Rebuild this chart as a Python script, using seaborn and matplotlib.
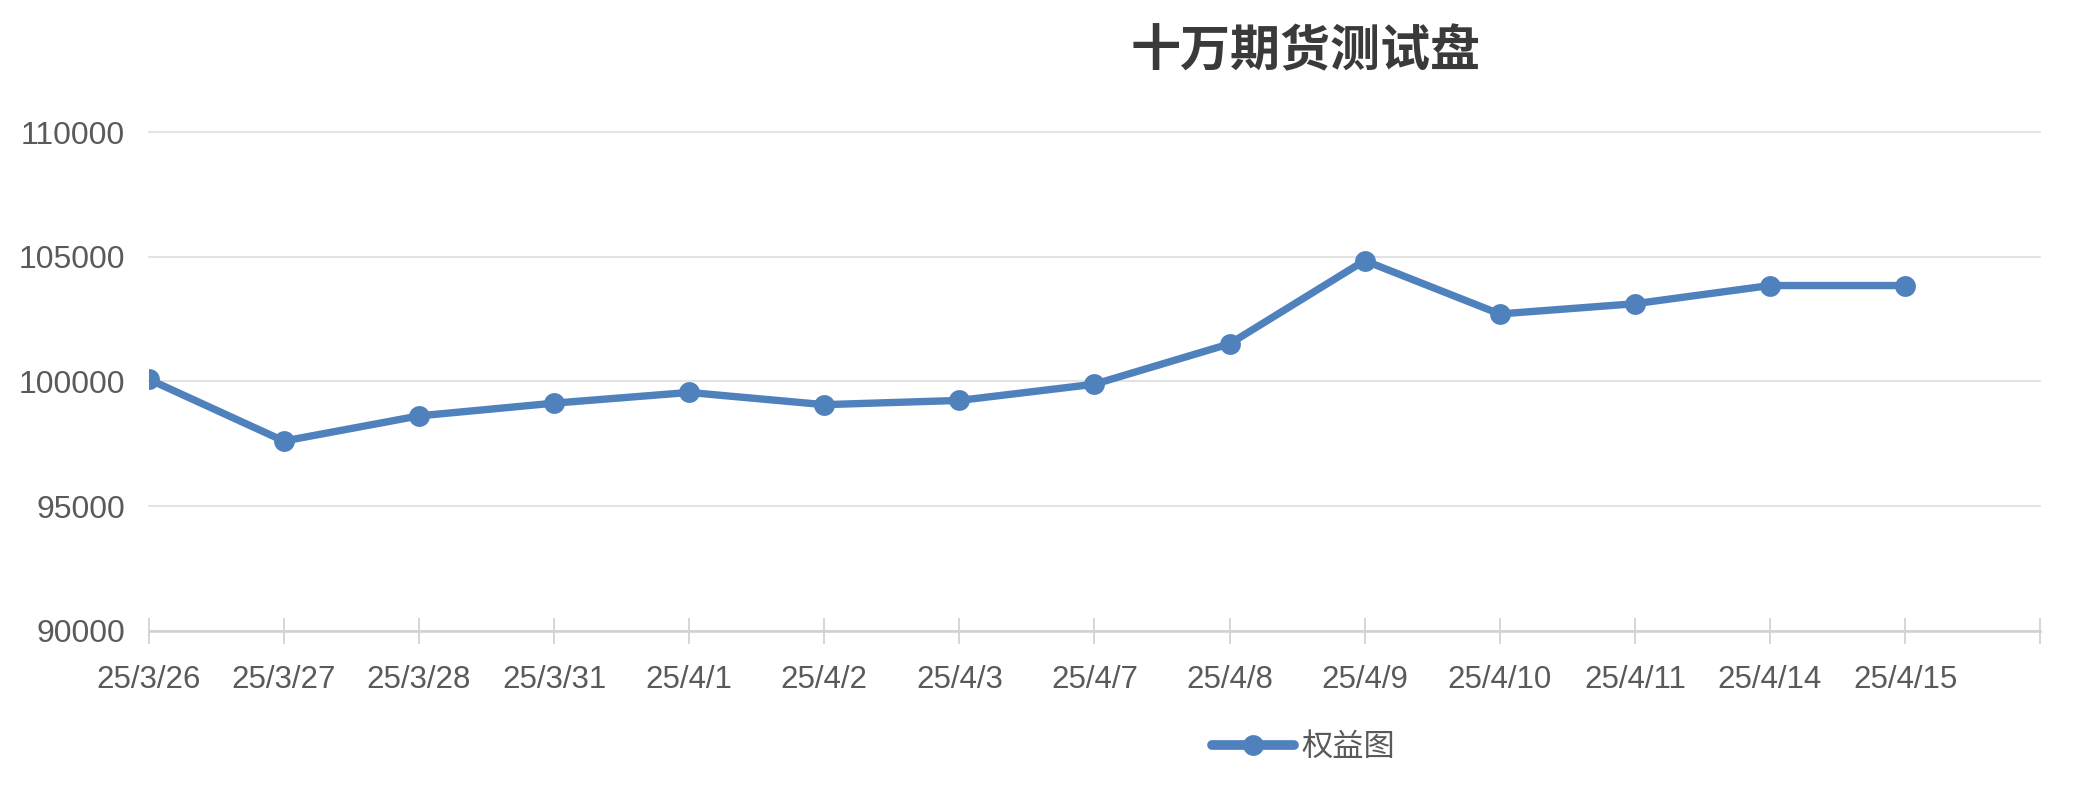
import pandas as pd
import matplotlib
matplotlib.use('Agg')
import matplotlib.pyplot as plt
import seaborn as sns

# 数据
dates = ['25/3/26', '25/3/27', '25/3/28', '25/3/31', '25/4/1', '25/4/2', '25/4/3',
         '25/4/7', '25/4/8', '25/4/9', '25/4/10', '25/4/11', '25/4/14', '25/4/15']
equity = [100090, 97610, 98620, 99130, 99560, 99070, 99240,
          99890, 101510, 104850, 102710, 103120, 103850, 103850]
y_ticks = [90000, 95000, 100000, 105000, 110000]
titulo = '十万期货测试盘'
serie = '权益图'

sns.set_style('white')
plt.rcParams['font.family'] = ['Liberation Sans', 'Noto Sans CJK SC', 'DejaVu Sans']

azul = '#4f81bd'
cinza_texto = '#5a5a5a'

df = pd.DataFrame({'data': dates, 'valor': equity})

fig = plt.figure(figsize=(20.86, 7.86), dpi=100)
ax = fig.add_axes([0.0713, 0.1976, 0.978 - 0.0713, 0.8317 - 0.1976])

sns.lineplot(data=df, x='data', y='valor', ax=ax, color=azul, linewidth=5.3,
             marker='o', markersize=15, markeredgewidth=0, label=serie, sort=False)

ax.set_xlim(0, len(dates))
ax.set_ylim(y_ticks[0], y_ticks[-1])
ax.set_xticks(range(len(dates) + 1))
ax.set_xticklabels(dates + [''])
ax.set_yticks(y_ticks)
ax.set_yticklabels([str(v) for v in y_ticks])
ax.set_xlabel('')
ax.set_ylabel('')

ax.yaxis.grid(True, color='#e3e3e3', linewidth=1.5)
for g in ax.get_ygridlines():
    g.set_clip_on(False)
ax.set_axisbelow(True)

for lado in ['top', 'right', 'left']:
    ax.spines[lado].set_visible(False)
ax.spines['bottom'].set_color('#d0d0d0')
ax.spines['bottom'].set_linewidth(1.8)

ax.tick_params(axis='x', bottom=True, direction='inout', length=19, width=1.3, color='#d3d3d3',
               labelsize=22.5, labelcolor=cinza_texto, pad=15)
ax.tick_params(axis='y', left=False, length=0, labelsize=23, labelcolor=cinza_texto, pad=17)

fig.text(0.626, 1 - 52 / 786, titulo, ha='center', va='center', fontsize=36,
         fontweight='bold', color='#3a3a3a', family=['Noto Sans CJK SC', 'DejaVu Sans'])

leg = ax.legend(loc='center', bbox_to_anchor=(0.625, 0.05), bbox_transform=fig.transFigure,
                frameon=False, handlelength=2.6, handletextpad=0.25,
                prop={'family': ['Noto Sans CJK SC', 'DejaVu Sans'], 'size': 22.5})
for t in leg.get_texts():
    t.set_color(cinza_texto)
for h in leg.legend_handles:
    h.set_linewidth(7)

fig.savefig('out.png', dpi=100)
